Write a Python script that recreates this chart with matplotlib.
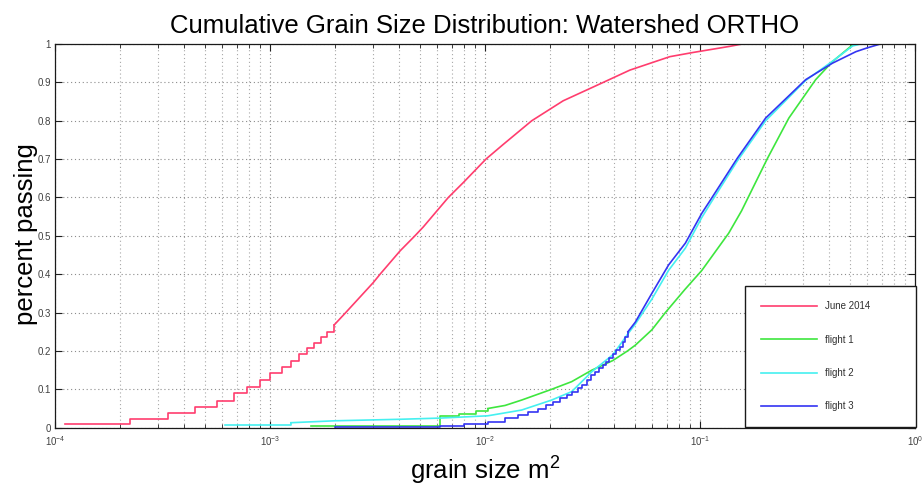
import matplotlib
matplotlib.use("Agg")
import matplotlib.pyplot as plt
import numpy as np
from matplotlib.ticker import LogLocator, NullFormatter, FixedLocator, FixedFormatter

# ---- data: cumulative fraction passing vs. grain area (m^2) ----
# June 2014 survey: pixel-quantised small grains (stepped), then the smooth tail
june_step_x = [1.11e-4, 2.24e-4, 3.37e-4, 4.5e-4, 5.67e-4, 6.78e-4, 7.83e-4, 9.0e-4,
               1.0e-3, 1.14e-3, 1.25e-3, 1.36e-3, 1.48e-3, 1.6e-3, 1.72e-3, 1.85e-3, 1.99e-3]
june_step_v = [0.0104, 0.022, 0.0376, 0.055, 0.0705, 0.09, 0.107, 0.1245,
               0.142, 0.158, 0.174, 0.192, 0.207, 0.22, 0.236, 0.25, 0.268]
june_x = [2.25e-3, 3.02e-3, 3.25e-3, 4.03e-3, 4.72e-3, 5.16e-3, 6.75e-3, 7.93e-3,
          1.01e-2, 1.22e-2, 1.65e-2, 2.31e-2, 3.55e-2, 4.72e-2, 7.24e-2, 9.3e-2,
          0.138, 0.157]
june_v = [0.30, 0.378, 0.40, 0.461, 0.50, 0.523, 0.60, 0.639,
          0.70, 0.739, 0.80, 0.852, 0.90, 0.932, 0.967, 0.978,
          0.994, 1.0]

# flight 1
f1_step_x = [1.55e-3, 6.15e-3, 7.6e-3, 9.1e-3, 1.03e-2]
f1_step_v = [0.005, 0.031, 0.037, 0.043, 0.050]
f1_x = [1.24e-2, 1.48e-2, 2.04e-2, 2.53e-2, 3.14e-2, 3.93e-2, 4.6e-2, 5.0e-2, 5.97e-2,
        6.9e-2, 8.5e-2, 0.102, 0.136, 0.156, 0.206, 0.259, 0.345, 0.413, 0.513, 0.53]
f1_v = [0.058, 0.072, 0.100, 0.120, 0.150, 0.175, 0.200, 0.215, 0.255,
        0.300, 0.360, 0.410, 0.507, 0.565, 0.702, 0.807, 0.907, 0.954, 0.998, 1.0]

# flight 2
f2_step_x = [6.2e-4, 1.25e-3]
f2_step_v = [0.007, 0.013]
f2_x = [2.0e-3, 4.06e-3, 6.15e-3, 1.03e-2, 1.48e-2, 2.04e-2, 2.53e-2, 3.14e-2, 3.93e-2,
        4.64e-2, 5.0e-2, 5.97e-2, 7.14e-2, 8.55e-2, 0.102, 0.112, 0.149, 0.202, 0.31,
        0.413, 0.513, 0.56]
f2_v = [0.018, 0.022, 0.025, 0.031, 0.046, 0.072, 0.094, 0.146, 0.19,
        0.246, 0.270, 0.335, 0.41, 0.468, 0.548, 0.585, 0.695, 0.80, 0.905,
        0.955, 0.995, 1.0]

# flight 3
f3_step_x = [2.0e-3, 6.2e-3, 8.0e-3, 1.03e-2, 1.24e-2, 1.43e-2, 1.59e-2, 1.77e-2, 1.93e-2,
             2.08e-2, 2.23e-2, 2.40e-2, 2.53e-2, 2.70e-2, 2.84e-2, 2.97e-2, 3.11e-2, 3.25e-2,
             3.40e-2, 3.53e-2, 3.66e-2, 3.79e-2, 3.93e-2, 4.07e-2, 4.23e-2, 4.37e-2, 4.49e-2,
             4.62e-2]
f3_step_v = [0.001, 0.004, 0.009, 0.016, 0.024, 0.033, 0.042, 0.050, 0.059,
             0.068, 0.077, 0.085, 0.094, 0.103, 0.111, 0.124, 0.137, 0.146,
             0.155, 0.163, 0.172, 0.181, 0.192, 0.203, 0.211, 0.224, 0.237,
             0.25]
f3_x = [5.0e-2, 5.97e-2, 7.14e-2, 8.55e-2, 0.102, 0.112, 0.149, 0.202, 0.31, 0.413,
        0.531, 0.60, 0.69]
f3_v = [0.275, 0.35, 0.424, 0.481, 0.559, 0.594, 0.702, 0.807, 0.907, 0.95,
        0.98, 0.99, 1.0]

labels = ["June 2014", "flight 1", "flight 2", "flight 3"]
colors = ["#ff3d6e", "#3ee63e", "#45f0f0", "#3434f2"]

yticks = [0, 0.1, 0.2, 0.3, 0.4, 0.5, 0.6, 0.7, 0.8, 0.9, 1.0]
ytick_labels = ["0", "0.1", "0.2", "0.3", "0.4", "0.5", "0.6", "0.7", "0.8", "0.9", "1"]

plt.rcParams["font.family"] = ["Liberation Sans", "DejaVu Sans"]
plt.rcParams["mathtext.fontset"] = "custom"
plt.rcParams["mathtext.rm"] = "Liberation Sans"
plt.rcParams["mathtext.it"] = "Liberation Sans:italic"
plt.rcParams["mathtext.bf"] = "Liberation Sans:bold"

fig = plt.figure(figsize=(9.23, 4.88), dpi=100)
ax = fig.add_axes([55 / 923, 60.3 / 488, 860 / 923, 383.7 / 488])

series = [
    (june_step_x, june_step_v, june_x, june_v),
    (f1_step_x, f1_step_v, f1_x, f1_v),
    (f2_step_x, f2_step_v, f2_x, f2_v),
    (f3_step_x, f3_step_v, f3_x, f3_v),
]
for (sx, sv, x, v), lab, col in zip(series, labels, colors):
    # stepped part (quantised grain areas), then the continuous part
    ax.plot(sx, sv, drawstyle="steps-post", color=col, lw=1.2, label=lab)
    ax.plot([sx[-1]] + list(x), [sv[-1]] + list(v), color=col, lw=1.2,
            label="_nolegend_")

ax.set_xscale("log")
ax.set_xlim(1e-4, 1)
ax.set_ylim(0, 1)
ax.xaxis.set_major_locator(LogLocator(base=10, numticks=10))
ax.xaxis.set_minor_locator(LogLocator(base=10, subs=np.arange(2, 10), numticks=20))
ax.xaxis.set_minor_formatter(NullFormatter())
ax.yaxis.set_major_locator(FixedLocator(yticks))
ax.yaxis.set_major_formatter(FixedFormatter(ytick_labels))

ax.tick_params(which="both", direction="in", top=True, right=True,
               labelsize=7, labelcolor="#404040", color="#202020")
ax.tick_params(which="major", length=5, width=0.8)
ax.tick_params(which="minor", length=3, width=0.6)
ax.tick_params(axis="x", pad=5)
ax.tick_params(axis="y", pad=3)

dots = (0, (1, 2.5))
ax.grid(True, which="major", axis="both", linestyle=dots, color="#8c8c8c", lw=0.8)
ax.grid(True, which="minor", axis="x", linestyle=dots, color="#a8a8a8", lw=0.8)
ax.set_axisbelow(True)

for sp in ax.spines.values():
    sp.set_linewidth(0.9)
    sp.set_color("#1a1a1a")

ax.set_title("Cumulative Grain Size Distribution: Watershed ORTHO", fontsize=18.5, pad=8)
ax.set_xlabel("grain size m$^2$", fontsize=18.5)
ax.xaxis.set_label_coords(0.5, -0.071)
ax.set_ylabel("percent passing", fontsize=18.5)
ax.yaxis.set_label_coords(-0.020, 0.505)

leg = ax.legend(loc="lower left",
                bbox_to_anchor=(745 / 923, 61 / 488, 171 / 923, 147 / 488),
                bbox_transform=fig.transFigure, mode="expand",
                fontsize=7, handlelength=5.8, handletextpad=0.8,
                labelspacing=2.4, borderpad=1.6, borderaxespad=0,
                fancybox=False, framealpha=1, edgecolor="#1a1a1a")
leg.get_frame().set_linewidth(1.0)
for t in leg.get_texts():
    t.set_color("#303030")

fig.savefig("out.png", dpi=100)
